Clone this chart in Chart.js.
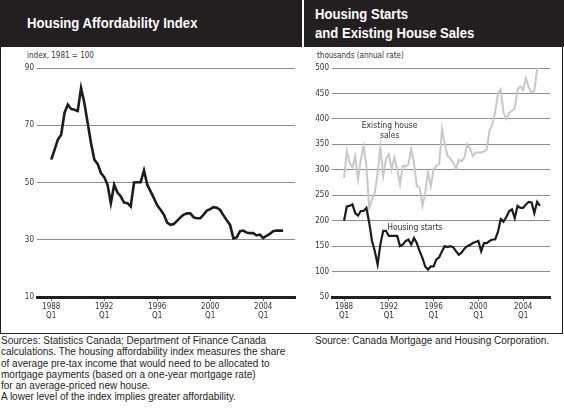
<!DOCTYPE html>
<html>
<head>
<meta charset="utf-8">
<script src="https://cdn.jsdelivr.net/npm/chart.js@4.4.1/dist/chart.umd.min.js"></script>
<style>
  body { margin: 0; background: #fff; width: 564px; height: 413px; position: relative; overflow: hidden; }
  .band { position: absolute; left: 0; top: 0; width: 564px; height: 47px; background: #231f20; }
  .divider { position: absolute; left: 302px; top: 0; width: 2px; height: 47px; background: #fff; }
  .frame { position: absolute; left: 0; top: 0; width: 563px; height: 334px; box-sizing: border-box;
           border-left: 1.5px solid #231f20; border-right: 1.5px solid #231f20; border-bottom: 1.5px solid #231f20; }
  .title { position: absolute; color: #fff; font: bold 14px "Liberation Sans", Arial, sans-serif;
           transform: scaleX(0.935); transform-origin: left top; white-space: nowrap; }
  .unit { position: absolute; color: #333; font: 8px "Liberation Sans Narrow", "DejaVu Sans Condensed", sans-serif; }
  .note { position: absolute; color: #231f20; font: 10px "Liberation Sans", Arial, sans-serif; line-height: 11.3px; white-space: nowrap; }
  canvas { position: absolute; }
</style>
</head>
<body>
<div class="band"></div>
<div class="divider"></div>
<div class="frame"></div>
<div class="title" style="left:27px; top:16px; line-height:14px;">Housing Affordability Index</div>
<div class="title" style="left:315px; top:5px; line-height:19px;">Housing Starts<br>and Existing House Sales</div>
<div class="unit" style="left:27px; top:51px;">index, 1981 = 100</div>
<div class="unit" style="left:317px; top:51px;">thousands (annual rate)</div>

<canvas id="affordChart" width="297" height="284" style="left:2px; top:48px;"></canvas>
<canvas id="housingChart" width="258" height="284" style="left:303px; top:48px;"></canvas>

<div class="note" style="left:1px; top:335px;">Sources: Statistics Canada; Department of Finance Canada<br>calculations. The housing affordability index measures the share<br>of average pre-tax income that would need to be allocated to<br>mortgage payments (based on a one-year mortgage rate)<br>for an average-priced new house.<br>A lower level of the index implies greater affordability.</div>
<div class="note" style="left:315px; top:335px;">Source: Canada Mortgage and Housing Corporation.</div>

<script>
// quarterly, 1988 Q1 .. 2005 Q3
const affordIndex = [58, 61.4, 65, 66.7, 74.3, 77.2, 75.7, 75.4, 75, 83,
    77.8, 70.8, 63.8, 58, 56.5, 53.3, 51.9, 49.2, 42.8, 49.2,
    46.5, 45.1, 43, 42.8, 41.6, 50, 50.1, 50.1, 54.2, 49.2,
    46.9, 44.5, 42, 40.5, 38.8, 36, 35.2, 35.5, 36.6, 37.8,
    38.8, 39.2, 39.2, 37.8, 37.5, 37.5, 38.8, 40.2, 40.7, 41.4,
    41.2, 40.4, 38.5, 36.8, 35.2, 30.5, 30.8, 33, 33.2, 32.5,
    32.3, 32.3, 31.5, 31.8, 30.6, 31.4, 32, 33, 33.2, 33.2, 33.2];

const housingStarts = [200, 228, 229, 232, 215, 210, 219, 219, 225, 196,
    160, 140, 114, 154, 180, 180, 170, 170, 170, 170,
    150, 153, 160, 163, 153, 166, 156, 140, 127, 110,
    104, 110, 110, 124, 128, 140, 150, 148, 150, 148,
    140, 133, 137, 145, 150, 152, 156, 158, 160, 140,
    156, 156, 160, 163, 163, 178, 203, 198, 207, 219,
    222, 205, 229, 225, 225, 232, 237, 236, 215, 237, 229];

const existingSales = [284, 337, 314, 304, 327, 281, 321, 346, 307, 225,
    242, 255, 294, 344, 288, 321, 330, 301, 324, 301,
    271, 308, 306, 311, 340, 314, 268, 265, 229, 255,
    294, 268, 301, 308, 311, 380, 350, 327, 322, 314,
    302, 320, 317, 324, 350, 342, 327, 334, 334, 334,
    336, 340, 378, 388, 413, 450, 458, 412, 400, 412,
    416, 420, 458, 464, 457, 480, 462, 452, 455, 498, 509];

const yearTicks = [0, 16, 32, 48, 64];
const yearLabels = ['1988', '1992', '1996', '2000', '2004'];
const affordTicks = [10, 30, 50, 70, 90];
const housingTicks = [50, 100, 150, 200, 250, 300, 350, 400, 450, 500];

const housingNotes = [
    { lines: ['Existing house', 'sales'], x: 16.3, y: 386 },
    { lines: ['Housing starts'], x: 25.3, y: 186 }
];

const smallFont = { family: '"Liberation Sans Narrow", "DejaVu Sans Condensed", sans-serif', size: 8 };

function toPoints(values) {
    return values.map(function (v, i) { return { x: i, y: v }; });
}

function xAxis() {
    return {
        type: 'linear',
        min: -4.3,
        max: 73.6,
        afterBuildTicks: function (scale) {
            scale.ticks = yearTicks.map(function (v) { return { value: v }; });
        },
        afterFit: function (scale) { scale.height = 35; },
        grid: { drawOnChartArea: false, drawTicks: true, tickLength: 4, color: '#777' },
        border: { display: true, color: '#231f20', width: 3 },
        ticks: {
            padding: 1,
            color: '#333',
            font: smallFont,
            maxRotation: 0,
            autoSkip: false,
            callback: function (value) {
                return [yearLabels[yearTicks.indexOf(value)], 'Q1'];
            }
        }
    };
}

function yAxis(min, max, tickValues, width) {
    return {
        min: min,
        max: max,
        afterBuildTicks: function (scale) {
            scale.ticks = tickValues.map(function (v) { return { value: v }; });
        },
        afterFit: function (scale) { scale.width = width; },
        grid: { color: '#8c8c8c', lineWidth: 1, drawTicks: false },
        border: { display: false },
        ticks: { padding: 3, color: '#333', font: smallFont }
    };
}

const notePlugin = {
    id: 'notes',
    afterDatasetsDraw: function (chart, args, opts) {
        if (!opts.items) return;
        const ctx = chart.ctx;
        ctx.save();
        ctx.font = '8.5px "Liberation Sans Narrow", "DejaVu Sans Condensed", sans-serif';
        ctx.fillStyle = '#333';
        ctx.textAlign = 'center';
        ctx.textBaseline = 'middle';
        opts.items.forEach(function (n) {
            const px = chart.scales.x.getPixelForValue(n.x);
            const py = chart.scales.y.getPixelForValue(n.y);
            n.lines.forEach(function (line, i) {
                ctx.fillText(line, px, py + i * 9.5);
            });
        });
        ctx.restore();
    }
};

function drawAffordChart() {
    new Chart(document.getElementById('affordChart'), {
        type: 'line',
        data: {
            datasets: [{
                data: toPoints(affordIndex),
                borderColor: '#1f1b1c',
                borderWidth: 2.6,
                pointRadius: 0,
                tension: 0
            }]
        },
        options: {
            responsive: false,
            animation: false,
            layout: { padding: { top: 20, right: 4, left: 0, bottom: 0 } },
            plugins: { legend: { display: false }, tooltip: { enabled: false } },
            scales: { x: xAxis(), y: yAxis(10, 90, affordTicks, 35) }
        }
    });
}

function drawHousingChart() {
    new Chart(document.getElementById('housingChart'), {
        type: 'line',
        data: {
            datasets: [{
                label: 'Housing starts',
                data: toPoints(housingStarts),
                borderColor: '#1f1b1c',
                borderWidth: 2.2,
                pointRadius: 0,
                tension: 0
            }, {
                label: 'Existing house sales',
                data: toPoints(existingSales),
                borderColor: '#c8c8c8',
                borderWidth: 2,
                pointRadius: 0,
                tension: 0
            }]
        },
        options: {
            responsive: false,
            animation: false,
            layout: { padding: { top: 20, right: 11, left: 0, bottom: 0 } },
            plugins: {
                legend: { display: false },
                tooltip: { enabled: false },
                notes: { items: housingNotes }
            },
            scales: { x: xAxis(), y: yAxis(50, 500, housingTicks, 29) }
        },
        plugins: [notePlugin]
    });
}

drawAffordChart();
drawHousingChart();
</script>
</body>
</html>
